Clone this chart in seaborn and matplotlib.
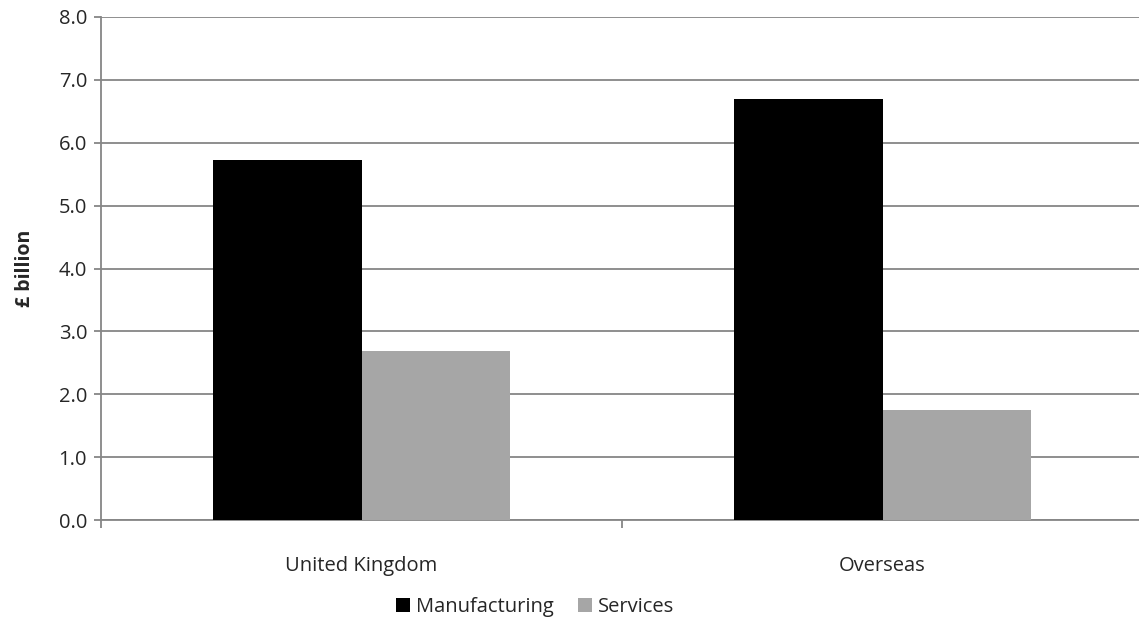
import pandas as pd
import matplotlib
matplotlib.use("Agg")
import matplotlib.pyplot as plt
import seaborn as sns
from matplotlib.ticker import MultipleLocator, FixedLocator, FormatStrFormatter

# data
regions = ["United Kingdom", "Overseas"]
manufacturing = [5.72, 6.70]
services = [2.69, 1.75]
sectors = ["Manufacturing", "Services"]
colors = ["#000000", "#a6a6a6"]

df = pd.DataFrame({
    "region": regions * 2,
    "sector": [sectors[0]] * 2 + [sectors[1]] * 2,
    "value": manufacturing + services,
})

sns.set_theme(style="white")
plt.rcParams["font.family"] = ["Open Sans", "DejaVu Sans"]

fig = plt.figure(figsize=(11.39, 6.24), dpi=100)
ax = fig.add_axes([101 / 1139, 104 / 624, 1042 / 1139, 503 / 624])

sns.barplot(data=df, x="region", y="value", hue="sector", order=regions,
            hue_order=sectors, palette=colors, width=0.57, gap=0,
            edgecolor="none", linewidth=0, ax=ax, zorder=3)

ax.set_xlim(-0.5, 1.5)
ax.set_ylim(0, 8)
ax.yaxis.set_major_locator(MultipleLocator(1))
ax.yaxis.set_major_formatter(FormatStrFormatter("%.1f"))
ax.grid(axis="y", color="#868686", linewidth=1.3, zorder=0)
ax.grid(axis="x", visible=False)

for s in ["top", "right"]:
    ax.spines[s].set_visible(False)
for s in ["left", "bottom"]:
    ax.spines[s].set_color("#868686")
    ax.spines[s].set_linewidth(1.3)

ax.tick_params(axis="y", which="major", left=True, length=5, width=1.3,
               color="#868686", pad=5, labelsize=14.5)
ax.tick_params(axis="x", which="major", bottom=False, labelsize=14.5, pad=20)
ax.xaxis.set_minor_locator(FixedLocator([-0.5, 0.5, 1.5]))
ax.tick_params(axis="x", which="minor", bottom=True, length=6, width=1.3,
               color="#868686")

ax.set_xlabel("")
ax.set_ylabel("£ billion", fontsize=14, fontweight="bold", labelpad=17)

ax.legend_.remove()
handles, labels = ax.get_legend_handles_labels()
fig.legend(handles, labels, loc="center", bbox_to_anchor=(535 / 1139, 17 / 624),
           ncol=2, frameon=False, fontsize=14.5, handlelength=0.7,
           handleheight=0.7, handletextpad=0.3, columnspacing=1.2)

fig.savefig("out.png", dpi=100)
